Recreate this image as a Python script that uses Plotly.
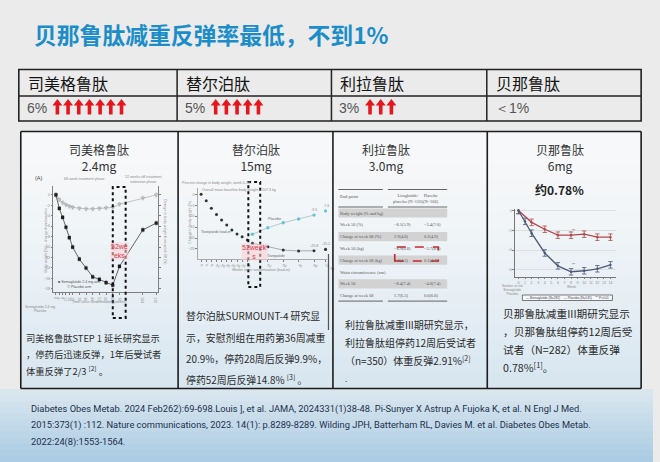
import plotly.graph_objects as go

W, H = 660, 462

# ======================= DATA =======================
title_text = "贝那鲁肽减重反弹率最低，不到1%"
drugs = ["司美格鲁肽", "替尔泊肽", "利拉鲁肽", "贝那鲁肽"]
rebound_text = ["6%", "5%", "3%", "＜1%"]
arrow_counts = [7, 5, 3, 0]
doses = ["2.4mg", "15mg", "3.0mg", "6mg"]

# Panel 1: STEP 1 extension (semaglutide 2.4 mg)
sema_weeks = [0, 4, 8, 12, 16, 20, 28, 36, 44, 52, 60, 68, 76, 104, 120]
sema_pct = [0, -2.6, -4.3, -6.2, -8.2, -10.0, -12.3, -14.0, -15.7, -16.2, -16.8, -17.3, -13.7, -6.7, -5.4]
sema_placebo_pct = [0, -0.9, -1.5, -1.9, -2.2, -2.4, -2.6, -2.7, -2.7, -2.6, -2.5, -2.4, -1.8, -0.6, 0.0]

# Panel 2: SURMOUNT-4 (tirzepatide 15 mg)
tzp_leadin_weeks = [0, 4, 8, 12, 16, 20, 24, 28, 32, 36]
tzp_leadin_pct = [0, -2.9, -6.4, -9.2, -11.7, -14.0, -16.3, -18.2, -19.4, -20.9]
tzp_rand_weeks = [40, 52, 64, 76, 88]
tzp_placebo_pct = [-18.3, -15.3, -13.0, -11.3, -9.5]
tzp_cont_pct = [-22.4, -24.0, -25.5, -25.9, -25.8]
tzp_last_week = [97]
tzp_last_placebo = [-7.6]
tzp_last_cont = [-25.2]

# Panel 3: liraglutide table
lira_rows = ["Body weight (% and kg)", "Week 56 (%)", "Change at week 68 (%)", "Week 56 (kg)",
             "Change at week 68 (kg)", "Waist circumference (cm)", "Week 56", "Change at week 68"]
lira_col1 = ["", "−8.1(5.9)", "2.9(4.8)", "−8.9(6.8)", "2.6(4.3)", "", "−8.4(7.4)", "1.7(6.3)"]
lira_col2 = ["", "−3.4(7.0)", "0.2(4.9)", "−3.7(8.0)", "0.1(4.7)", "", "−4.0(7.4)", "0.6(6.8)"]
lira_shaded = [True, False, True, False, True, False, True, False]

# Panel 4: beinaglutide 6 mg
bn_weeks = [0, 1, 2, 4, 6, 8, 10, 12, 14]
bn_pct = [0, -1.1, -2.3, -4.3, -5.6, -6.2, -6.1, -5.9, -5.5]
bn_placebo_weeks = [0, 2, 4, 6, 8, 10, 12, 14]
bn_placebo_pct = [0, -1.2, -1.9, -2.5, -2.5, -2.4, -2.7, -2.7]

panel_texts = [
    ["司美格鲁肽STEP 1 延长研究显示", "，停药后迅速反弹，1年后受试者", "体重反弹了2/3 <sup>[2]</sup> 。"],
    ["替尔泊肽SURMOUNT-4 研究显", "示，安慰剂组在用药第36周减重", "20.9%，停药28周后反弹9.9%，", "停药52周后反弹14.8% <sup>[3]</sup> 。"],
    ["利拉鲁肽减重III期研究显示，", "利拉鲁肽组停药12周后受试者", "（n=350）体重反弹2.91%<sup>[2]</sup>"],
    ["贝那鲁肽减重III期研究显示", "，贝那鲁肽组停药12周后受", "试者（N=282）体重反弹", "0.78%<sup>[1]</sup>。"],
]
refs_lines = [
    "Diabetes Obes Metab. 2024 Feb262):69-698.Louis ], et al. JAMA, 2024331(1)38-48. Pi-Sunyer X Astrup A Fujoka K, et al. N Engl J Med.",
    "2015:373(1) :112. Nature communications, 2023. 14(1): p.8289-8289. Wilding JPH, Batterham RL, Davies M. et al. Diabetes Obes Metab.",
    "2022:24(8):1553-1564.",
]

# ======================= STYLE / LAYOUT =======================
CJK = "Noto Sans CJK SC"
RED = "#e5161d"
TXT = "#2a2a2a"
TINY = "#8a8a8a"
LSANS = "Liberation Sans"


def X(px):
    return px / W


def Y(py):
    return 1 - py / H


shapes, anns = [], []


def rect(x0, y0, x1, y1, fill=None, lc=None, lw=0, dash=None, layer="below"):
    d = dict(type="rect", xref="paper", yref="paper", x0=X(x0), x1=X(x1), y0=Y(y1), y1=Y(y0),
             layer=layer, line=dict(width=lw, color=lc or "rgba(0,0,0,0)"))
    if dash:
        d["line"]["dash"] = dash
    if fill:
        d["fillcolor"] = fill
    shapes.append(d)


def seg(x0, y0, x1, y1, color, lw, dash=None, layer="above"):
    d = dict(type="line", xref="paper", yref="paper", x0=X(x0), x1=X(x1), y0=Y(y0), y1=Y(y1),
             layer=layer, line=dict(width=lw, color=color))
    if dash:
        d["line"]["dash"] = dash
    shapes.append(d)


def text(px, py, s, size, color=TXT, xanchor="left", family=CJK, angle=0, bg=None, yanchor="middle"):
    a = dict(xref="paper", yref="paper", x=X(px), y=Y(py), text=s, showarrow=False,
             xanchor=xanchor, yanchor=yanchor, font=dict(size=size, color=color, family=family),
             textangle=angle, borderpad=0)
    if bg:
        a["bgcolor"] = bg
    anns.append(a)


def dtext(xref, yref, x, y, s, size, color=TINY, yshift=0, xshift=0):
    anns.append(dict(xref=xref, yref=yref, x=x, y=y, text=s, showarrow=False, yshift=yshift, xshift=xshift,
                     font=dict(size=size, color=color, family=LSANS), borderpad=0))


def hexrgb(h):
    h = h.lstrip("#")
    return [int(h[i:i + 2], 16) for i in (0, 2, 4)]


def vgrad(x0, y0, x1, y1, c0, c1, n=14, power=1.0):
    a, b = hexrgb(c0), hexrgb(c1)
    for i in range(n):
        t = ((i + 0.5) / n) ** power
        c = "rgb(%d,%d,%d)" % tuple(round(a[k] + (b[k] - a[k]) * t) for k in range(3))
        rect(x0, y0 + (y1 - y0) * i / n, x1, y0 + (y1 - y0) * (i + 1) / n + 0.6, fill=c)


# slide background (bottom blue band)
vgrad(0, 389, W, H, "#dbe7ef", "#a9cbe3", n=12)

# ---------- title ----------
text(33, 34, "<b>%s</b>" % title_text, 22.8, color="#1b8dc8")

# ---------- top table ----------
tab_l, tab_r, tab_t, tab_m, tab_b = 19, 648, 69.5, 96, 121
col_left = [19, 179, 335, 492]
for x in col_left[1:]:
    seg(x, tab_t, x, tab_b, "#222", 1.5)
rect(tab_l, tab_t, tab_r, tab_b, lc="#222", lw=1.6, layer="above")
seg(tab_l, tab_m, tab_r, tab_m, "#222", 1.3)
for i, d in enumerate(drugs):
    text(col_left[i] + 8, 83, d, 16, color="#151515")
    text(col_left[i] + 7, 107.5, rebound_text[i], 14, color="#555", family=LSANS)

stem_x, stem_y, head_x, head_y = [], [], [], []
for c, n in enumerate(arrow_counts):
    for i in range(n):
        x = col_left[c] + 7 + 32 + i * 10.8
        stem_x += [x, x, None]
        stem_y += [114.5, 104.5, None]
        head_x.append(x)
        head_y.append(103.3)

# ---------- panels ----------
pan_x = [21, 180, 336.5, 492.5, 648]
pan_t, pan_b = 131.5, 388.5
for i in range(4):
    vgrad(pan_x[i], pan_t, pan_x[i + 1], pan_b, "#f7f8f9", "#d6e5f0", n=16, power=1.6)
for x in pan_x:
    seg(x, pan_t, x, pan_b, "#1c1c1c", 1.6)
seg(pan_x[0], pan_t, pan_x[-1], pan_t, "#1c1c1c", 1.6)
seg(pan_x[0], pan_b, pan_x[-1], pan_b, "#1c1c1c", 1.6)

title_cx = [100, 259, 390, 566]
for i in range(4):
    text(title_cx[i], 157.2, drugs[i] + "<br>" + doses[i], 12, color="#333", xanchor="center")
text(566, 189, "<b>约0.78%</b>", 12, color="#222", xanchor="center")

# body texts
txt_pos = [(25, [338, 354, 370], 9.3), (187, [316, 338, 359, 379], 9.9),
           (348, [324, 342, 360], 10), (507, [313, 331.5, 349.5, 367], 10.7)]
for i, (x0, ys, sz) in enumerate(txt_pos):
    for line, yy in zip(panel_texts[i], ys):
        text(x0, yy, line, sz, color=TXT)
text(348, 378, ".", 8, color="#333")

# ---------- panel 1 decorations ----------
text(34, 178, "(A)", 5.5, color="#444", family=LSANS)
text(85, 179, "68-week treatment phase", 3.6, color=TINY, xanchor="center", family=LSANS)
text(145, 179.3, "52 weeks off-treatment<br>extension phase", 3.6, color=TINY, xanchor="center", family=LSANS)
text(58, 284.7, "■ Semaglutide 2.4 mg arm<br>▽ Placebo arm", 3.6, color="#555", family=LSANS)
text(100, 301.5, "Time since randomisation (weeks)", 3.6, color=TINY, xanchor="center", family=LSANS)
text(24, 309.3, "Semaglutide 2.4 mg<br>Placebo", 3.4, color=TINY, family=LSANS)
text(46, 240, "Body weight (%) – change from baseline", 3.6, color=TINY, xanchor="center", angle=-90, family=LSANS)
text(167, 232, "Change in body weight from week 68 (%)", 3.6, color=TINY, xanchor="center", angle=90, family=LSANS)
rect(114, 187, 127, 318, lc="#111", lw=2, dash="dot", layer="above")
text(120.5, 251, "52we<br>eks", 7, color="#d23c4c", xanchor="center", family=LSANS, bg="rgba(255,205,212,0.55)")

# ---------- panel 2 decorations ----------
text(183, 182.5, "Percent change in body weight, week 0–88", 3.6, color=TINY, family=LSANS)
text(203, 189.5, "Overall mean baseline body weight = 107.3 kg", 3.6, color=TINY, family=LSANS)
text(218, 232, "Tirzepatide lead-in", 3.6, color="#666", xanchor="center", family=LSANS)
text(277, 219, "Placebo", 3.6, color="#666", xanchor="center", family=LSANS)
text(279, 256, "Tirzepatide", 3.6, color="#666", xanchor="center", family=LSANS)
text(192, 222, "Change in body weight (%)", 3.6, color=TINY, xanchor="center", angle=-90, family=LSANS)
text(264, 270, "Weeks since randomization (lead-in)", 3.6, color=TINY, xanchor="center", family=LSANS)
rect(251, 182, 263, 287, lc="#111", lw=2, dash="dot", layer="above")
text(257.5, 251.5, "52week<br>s", 7, color="#d23c4c", xanchor="center", family=LSANS, bg="rgba(255,205,212,0.55)")
seg(332, 254, 332, 330, "#555", 1.2)

for xv, yv in [(tzp_rand_weeks[-1], tzp_placebo_pct[-1]), (tzp_rand_weeks[-1], tzp_cont_pct[-1]),
               (tzp_last_week[0], tzp_last_placebo[0]), (tzp_last_week[0], tzp_last_cont[0])]:
    dtext("x2", "y2", xv, yv, "%.1f" % yv, 3.6, yshift=5)

# ---------- panel 3 table ----------
LS = "Liberation Serif"
lx, lr = 342, 452
row_y0, row_dy = 213, 11.8
seg(lx, 189.5, 387, 189.5, "#555", 0.9)
seg(392, 189.5, lr, 189.5, "#555", 0.9)
text(lx + 1, 197, "End point", 4.6, color="#555", family=LS)
text(396, 198.5, "Liraglutide/<br>placebo (N=150)", 4.4, color="#555", family=LS)
text(427, 198.5, "Placebo<br>(N=166)", 4.4, color="#555", family=LS)
seg(lx, 207, 387, 207, "#555", 0.9)
seg(392, 207, lr, 207, "#555", 0.9)
for k, lab in enumerate(lira_rows):
    yy = row_y0 + k * row_dy
    if lira_shaded[k]:
        rect(lx, yy - 4.6, lr, yy + 4.6, fill="#d2d2d2")
    text(lx + 1, yy, lab, 4.4, color="#555", family=LS)
    if lira_col1[k]:
        text(397, yy, lira_col1[k], 4.4, color="#555", family=LS)
    if lira_col2[k]:
        text(428, yy, lira_col2[k], 4.4, color="#555", family=LS)
yb = row_y0 + (len(lira_rows) - 1) * row_dy + 5.5
seg(lx, yb, 387, yb, "#555", 0.9)
seg(392, yb, lr, yb, "#555", 0.9)
rect(399, 247, 443, 261, lc="#c8282d", lw=1.6, dash="dash", layer="above")

# ---------- panel 4 decorations ----------
text(578, 287, "Week", 3.6, color=TINY, xanchor="center", family=LSANS)
text(506, 289.5, "Number at risk<br>Beinaglutide<br>Placebo", 3.2, color=TINY, family=LSANS)
rect(528, 295, 619, 300.5, fill="rgba(255,255,255,0.6)", lc="#444", lw=0.7, layer="above")
text(573.5, 297.8, "— Beinaglutide (N=282)    — Placebo (N=145)    ** P<0.01", 3.2, color="#444",
     xanchor="center", family=LSANS)
dtext("x3", "y3", bn_placebo_weeks[4], bn_placebo_pct[4], "**", 4, color="#555", yshift=5, xshift=3)
dtext("x3", "y3", bn_weeks[5], bn_pct[5], "**", 4, color="#555", yshift=7, xshift=3)

# ---------- footer ----------
for k, ln in enumerate(refs_lines):
    text(30, 409 + k * 16.3, ln, 9.3, color="#22304d", family="Roboto")

# ======================= TRACES =======================
tick_font = dict(size=3.6, color=TINY, family=LSANS)
err = dict(type="constant", value=0.35, thickness=0.5, width=1.2)

fig = go.Figure()
fig.add_trace(go.Scatter(x=sema_weeks, y=sema_placebo_pct, mode="lines+markers",
                         line=dict(color="#b5b5b5", width=0.8),
                         marker=dict(symbol="triangle-down-open", size=3.2, color="#9a9a9a", line=dict(width=0.6)),
                         error_y=dict(err, color="#b0b0b0"), xaxis="x", yaxis="y"))
fig.add_trace(go.Scatter(x=sema_weeks, y=sema_pct, mode="lines+markers",
                         line=dict(color="#555", width=0.9),
                         marker=dict(symbol="square", size=3.2, color="#1e1e1e"),
                         error_y=dict(err, color="#666"), xaxis="x", yaxis="y"))

fig.add_trace(go.Scatter(x=tzp_leadin_weeks, y=tzp_leadin_pct, mode="markers",
                         marker=dict(symbol="circle", size=3, color="#333"), xaxis="x2", yaxis="y2"))
fig.add_trace(go.Scatter(x=tzp_rand_weeks, y=tzp_placebo_pct, mode="lines+markers",
                         line=dict(color="#a9bcc4", width=0.8),
                         marker=dict(symbol="circle", size=3.4, color="#5fc6d8"),
                         xaxis="x2", yaxis="y2"))
fig.add_trace(go.Scatter(x=tzp_rand_weeks, y=tzp_cont_pct, mode="lines+markers",
                         line=dict(color="#999", width=0.8),
                         marker=dict(symbol="circle", size=3, color="#333"),
                         xaxis="x2", yaxis="y2"))
fig.add_trace(go.Scatter(x=tzp_last_week * 2, y=tzp_last_placebo + tzp_last_cont, mode="markers",
                         marker=dict(symbol="circle", size=3.2, color=["#5fc6d8", "#333"]),
                         xaxis="x2", yaxis="y2"))

err4 = dict(type="constant", value=0.33, thickness=0.8, width=2.2)
fig.add_trace(go.Scatter(x=bn_placebo_weeks, y=bn_placebo_pct, mode="lines+markers",
                         line=dict(color="#b4474a", width=1.3), marker=dict(size=2.4, color="#b4474a"),
                         error_y=dict(err4, color="#b4474a"), xaxis="x3", yaxis="y3"))
fig.add_trace(go.Scatter(x=bn_weeks, y=bn_pct, mode="lines+markers",
                         line=dict(color="#4e5b78", width=1.3), marker=dict(size=2.4, color="#4e5b78"),
                         error_y=dict(err4, color="#4e5b78"), xaxis="x3", yaxis="y3"))

fig.add_trace(go.Scatter(x=stem_x, y=stem_y, mode="lines", line=dict(color=RED, width=3.6),
                         xaxis="x4", yaxis="y4"))
fig.add_trace(go.Scatter(x=head_x, y=head_y, mode="markers",
                         marker=dict(symbol="triangle-up", size=8.6, color=RED, line=dict(width=0)),
                         xaxis="x4", yaxis="y4"))

ax_common = dict(showgrid=False, zeroline=False, showline=True, linecolor="#808080", linewidth=0.8,
                 ticks="outside", ticklen=1.8, tickwidth=0.6, tickcolor="#808080", tickfont=tick_font,
                 fixedrange=True)

fig.update_layout(
    width=W, height=H, margin=dict(l=0, r=0, t=0, b=0),
    paper_bgcolor="#ebebeb", plot_bgcolor="rgba(0,0,0,0)",
    showlegend=False, shapes=shapes, annotations=anns,
    font=dict(family=CJK),
    xaxis=dict(ax_common, domain=[X(54), X(160)], range=[-3, 122.5], tickvals=sema_weeks, anchor="y"),
    yaxis=dict(ax_common, domain=[Y(292), Y(186)], range=[-18.6, 1.7], dtick=2, mirror="ticks", anchor="x"),
    xaxis2=dict(ax_common, domain=[X(200), X(331)], range=[-2.5, 98.5],
                tickvals=tzp_leadin_weeks + tzp_rand_weeks[1:] + tzp_last_week,
                ticktext=[str(v) for v in tzp_leadin_weeks + tzp_rand_weeks[1:]] + ["Wk 88"],
                linecolor="#aaa", anchor="y2"),
    yaxis2=dict(ax_common, domain=[Y(259), Y(188)], range=[-29.6, 2.9], dtick=5, linecolor="#aaa", anchor="x2"),
    xaxis3=dict(ax_common, domain=[X(520.7), X(623)], range=[-0.5, 14.9], dtick=1, linecolor="#777", anchor="y3"),
    yaxis3=dict(ax_common, domain=[Y(276.7), Y(209)], range=[-6.7, 0.15], tickvals=[0, -2, -4, -6],
                showgrid=True, gridcolor="#dedede", gridwidth=0.6, linecolor="#777", anchor="x3"),
    xaxis4=dict(domain=[0, 1], range=[0, W], visible=False, fixedrange=True, anchor="y4"),
    yaxis4=dict(domain=[0, 1], range=[H, 0], visible=False, fixedrange=True, anchor="x4"),
)

fig.write_html("out.html", config={"displayModeBar": False},
               post_script="document.body.style.margin='0';document.body.style.overflow='hidden';")
